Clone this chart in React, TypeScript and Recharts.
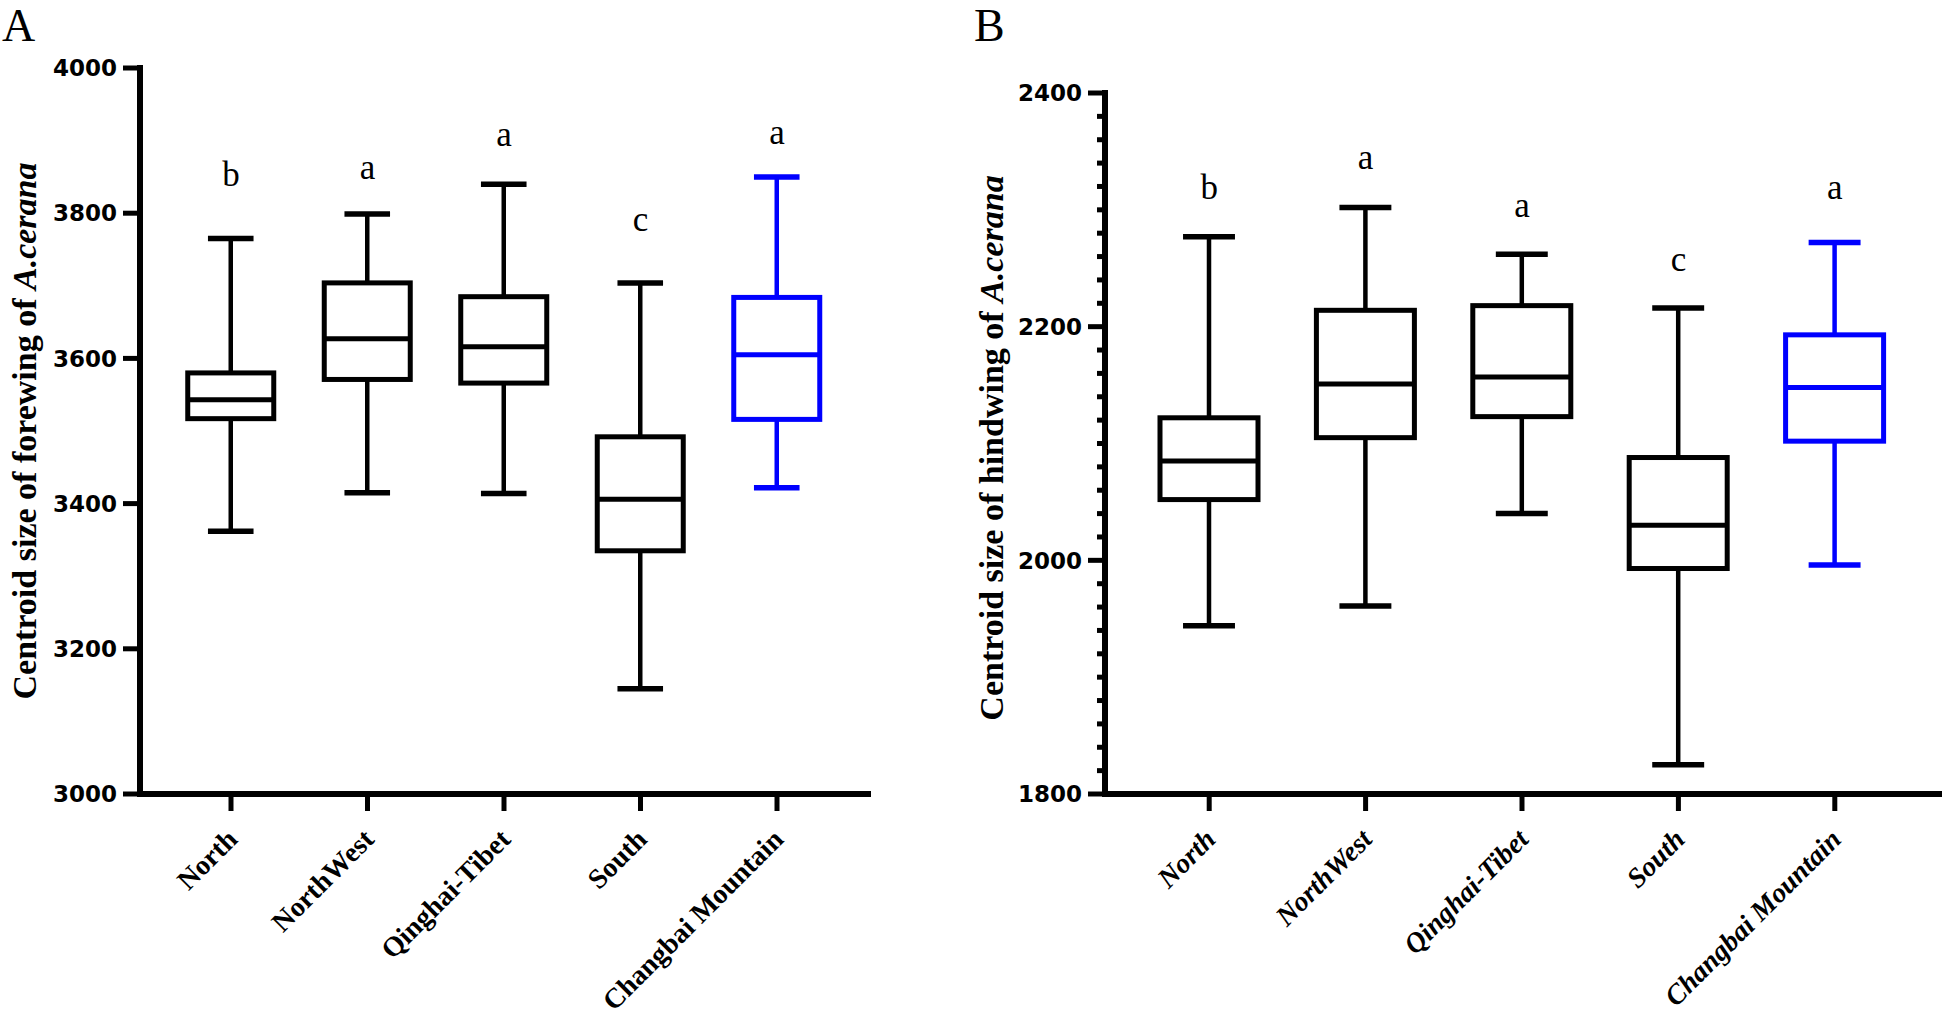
import React from "react";
import { ComposedChart, Bar, Scatter, XAxis, YAxis } from "recharts";

const regions = ["North", "NorthWest", "Qinghai-Tibet", "South", "Changbai Mountain"];

// panel A: forewing centroid size
const foreMin = [3362, 3415, 3414, 3145, 3422];
const foreQ1 = [3517, 3571, 3566, 3335, 3516];
const foreMedian = [3543, 3627, 3616, 3406, 3605];
const foreQ3 = [3580, 3704, 3685, 3492, 3684];
const foreMax = [3765, 3799, 3840, 3704, 3850];
const foreLetters = ["b", "a", "a", "c", "a"];
const foreLetterY = [3838, 3847, 3892, 3775, 3896];
const foreTicks = [3000, 3200, 3400, 3600, 3800, 4000];

// panel B: hindwing centroid size
const hindMin = [1944, 1961, 2040, 1825, 1996];
const hindQ1 = [2052, 2105, 2123, 1993, 2102];
const hindMedian = [2085, 2151, 2157, 2030, 2148];
const hindQ3 = [2122, 2214, 2218, 2088, 2193];
const hindMax = [2277, 2302, 2262, 2216, 2272];
const hindLetters = ["b", "a", "a", "c", "a"];
const hindLetterY = [2309, 2335, 2294, 2248, 2309];
const hindTicks = [1800, 2000, 2200, 2400];
const hindMinorStep = 20;

const boxColors = ["#000000", "#000000", "#000000", "#000000", "#0000ff"];

const serif = "'Liberation Serif', 'Times New Roman', serif";

function buildData(
	min: number[],
	q1: number[],
	median: number[],
	q3: number[],
	max: number[],
	letters: string[],
	letterY: number[]
) {
	return regions.map((region, i) => ({
		region,
		min: min[i],
		q1: q1[i],
		median: median[i],
		q3: q3[i],
		max: max[i],
		letter: letters[i],
		letterY: letterY[i],
	}));
}

const foreData = buildData(foreMin, foreQ1, foreMedian, foreQ3, foreMax, foreLetters, foreLetterY);
const hindData = buildData(hindMin, hindQ1, hindMedian, hindQ3, hindMax, hindLetters, hindLetterY);

function minorTicks(ticks: number[], step: number) {
	const out: number[] = [];
	const lo = ticks[0];
	const hi = ticks[ticks.length - 1];
	for (let v = lo; v <= hi + 0.001; v += step) out.push(Math.round(v));
	return out;
}

// box + whiskers drawn from the bar's [min, max] pixel range
const BoxShape = (props: any) => {
	const { x, y, width, height, payload, index } = props;
	const { min, q1, median, q3, max } = payload;
	const top = Math.min(y, y + height);
	const bottom = Math.max(y, y + height);
	const toPx = (v: number) => top + ((bottom - top) * (max - v)) / (max - min);
	const color = boxColors[index] || "#000";
	const cx = x + width / 2;
	const cap = width * 0.53;
	return (
		<g>
			<line x1={cx} x2={cx} y1={toPx(max)} y2={toPx(q3)} stroke={color} strokeWidth={4.5} />
			<line x1={cx} x2={cx} y1={toPx(q1)} y2={toPx(min)} stroke={color} strokeWidth={4.5} />
			<line x1={cx - cap / 2} x2={cx + cap / 2} y1={toPx(max)} y2={toPx(max)} stroke={color} strokeWidth={5.5} />
			<line x1={cx - cap / 2} x2={cx + cap / 2} y1={toPx(min)} y2={toPx(min)} stroke={color} strokeWidth={5.5} />
			<rect
				x={x}
				y={toPx(q3)}
				width={width}
				height={toPx(q1) - toPx(q3)}
				fill="#fff"
				stroke={color}
				strokeWidth={5}
			/>
			<line x1={x} x2={x + width} y1={toPx(median)} y2={toPx(median)} stroke={color} strokeWidth={5} />
		</g>
	);
};

const LetterShape = (props: any) => {
	const { cx, cy, payload } = props;
	return (
		<text x={cx} y={cy} textAnchor="middle" fontFamily={serif} fontSize={35} fill="#000">
			{payload.letter}
		</text>
	);
};

function makeYTick(majors: number[]) {
	return (props: any) => {
		const { x, y, payload } = props;
		const axisX = x + 23;
		const isMajor = majors.includes(payload.value);
		const len = isMajor ? 17 : 8;
		return (
			<g>
				<line x1={axisX - len} x2={axisX} y1={y} y2={y} stroke="#000" strokeWidth={5} />
				{isMajor && (
					<text
						x={x}
						y={y}
						dy="0.36em"
						textAnchor="end"
						fontFamily="'DejaVu Sans', sans-serif"
						fontWeight="bold"
						fontSize={23}
						fill="#000"
					>
						{payload.value}
					</text>
				)}
			</g>
		);
	};
}

function makeXTick(italic: boolean) {
	return (props: any) => {
		const { x, y, payload } = props;
		const tx = x + 8;
		const ty = y + 30;
		return (
			<text
				x={tx}
				y={ty}
				transform={`rotate(-45, ${tx}, ${ty})`}
				textAnchor="end"
				fontFamily={serif}
				fontWeight="bold"
				fontStyle={italic ? "italic" : "normal"}
				fontSize={28}
				fill="#000"
			>
				{payload.value}
			</text>
		);
	};
}

interface PanelProps {
	data: any[];
	width: number;
	margin: { top: number; right: number; bottom: number; left: number };
	domain: [number, number];
	ticks: number[];
	majors: number[];
	xPad: number;
	barSize: number;
	italic: boolean;
}

function Panel({ data, width, margin, domain, ticks, majors, xPad, barSize, italic }: PanelProps) {
	return (
		<ComposedChart width={width} height={1020} data={data} margin={margin}>
			<XAxis
				dataKey="region"
				type="category"
				height={30}
				interval={0}
				padding={{ left: xPad, right: xPad }}
				axisLine={{ stroke: "#000", strokeWidth: 6, strokeLinecap: "square" }}
				tickLine={{ stroke: "#000", strokeWidth: 5 }}
				tickSize={17}
				tickMargin={0}
				tick={makeXTick(italic)}
			/>
			<YAxis
				type="number"
				width={60}
				domain={domain}
				ticks={ticks}
				interval={0}
				allowDataOverflow
				axisLine={{ stroke: "#000", strokeWidth: 6, strokeLinecap: "square" }}
				tickLine={false}
				tickSize={17}
				tickMargin={6}
				tick={makeYTick(majors)}
			/>
			<Bar
				dataKey={(d: any) => [d.min, d.max]}
				barSize={barSize}
				shape={BoxShape}
				isAnimationActive={false}
			/>
			<Scatter dataKey="letterY" shape={LetterShape} isAnimationActive={false} />
		</ComposedChart>
	);
}

export default function App() {
	return (
		<div style={{ position: "absolute", left: 0, top: 0, width: 1944, height: 1020, background: "#fff" }}>
			<div style={{ position: "absolute", left: 0, top: 0 }}>
				<Panel
					data={foreData}
					width={960}
					margin={{ top: 68, right: 92, bottom: 196, left: 80 }}
					domain={[3000, 4000]}
					ticks={foreTicks}
					majors={foreTicks}
					xPad={22.75}
					barSize={86}
					italic={false}
				/>
			</div>
			<div style={{ position: "absolute", left: 972, top: 0 }}>
				<Panel
					data={hindData}
					width={972}
					margin={{ top: 93, right: 5, bottom: 196, left: 73 }}
					domain={[1800, 2400]}
					ticks={minorTicks(hindTicks, hindMinorStep)}
					majors={hindTicks}
					xPad={26}
					barSize={98}
					italic={true}
				/>
			</div>
			<svg
				width={1944}
				height={1020}
				style={{ position: "absolute", left: 0, top: 0, pointerEvents: "none" }}
			>
				<text x={2} y={41} fontFamily={serif} fontSize={46} fill="#000">
					A
				</text>
				<text x={974} y={41} fontFamily={serif} fontSize={46} fill="#000">
					B
				</text>
				<text
					x={36}
					y={431}
					transform="rotate(-90, 36, 431)"
					textAnchor="middle"
					fontFamily={serif}
					fontWeight="bold"
					fontSize={34}
					fill="#000"
				>
					<tspan>Centroid size of forewing of </tspan>
					<tspan fontStyle="italic">A.cerana</tspan>
				</text>
				<text
					x={1003}
					y={448}
					transform="rotate(-90, 1003, 448)"
					textAnchor="middle"
					fontFamily={serif}
					fontWeight="bold"
					fontSize={34}
					fill="#000"
				>
					<tspan>Centroid size of hindwing of </tspan>
					<tspan fontStyle="italic">A.cerana</tspan>
				</text>
			</svg>
		</div>
	);
}
